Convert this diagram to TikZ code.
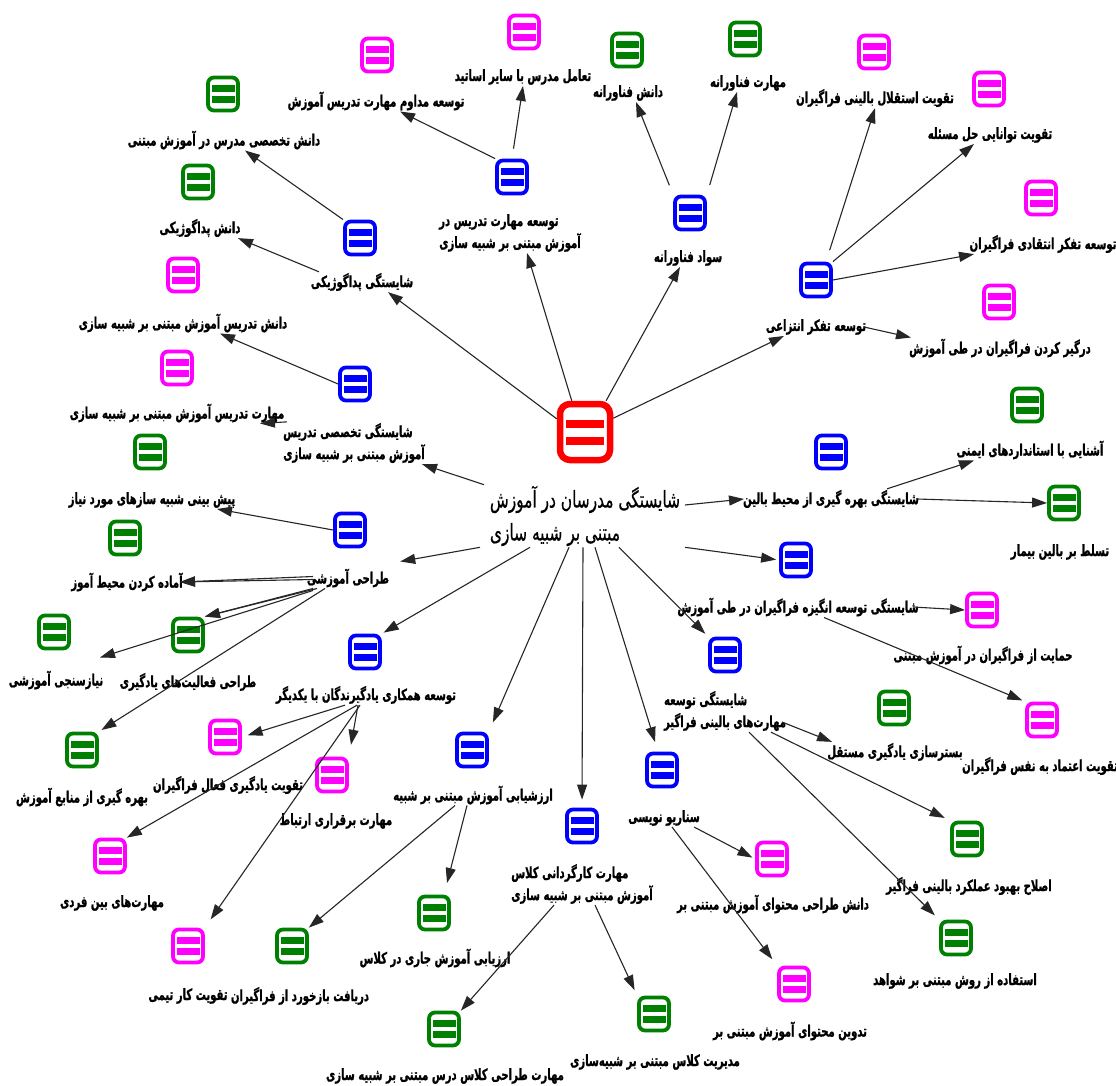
\documentclass[tikz,border=0pt]{standalone}
\usepackage{fontspec}
\usetikzlibrary{arrows.meta}
\TeXXeTstate=1
\newfontfamily\fa[Script=Arabic,FakeStretch=0.65,BoldFeatures={FakeBold=1}]{DejaVu Sans}
\newfontfamily\fc[Script=Arabic,FakeStretch=0.67,FakeBold=0.4]{DejaVu Sans}
\newcommand\ar[1]{\beginR #1\endR}
\definecolor{colG}{RGB}{0,128,0}
\definecolor{colB}{RGB}{0,0,255}
\definecolor{colM}{RGB}{255,0,255}
\definecolor{colR}{RGB}{255,0,0}
\newcommand\kid[7]{\node[ico=#2] (#1) at (#3,#4) {}; \node[lab] (#1l) at (#5,#6) {#7};}
\begin{document}
\begin{tikzpicture}[x=1pt,y=-1pt,
  ico/.style={draw=#1, fill=white, line width=3.8pt, rounded corners=6pt,
    minimum width=30pt, minimum height=33pt, inner sep=0pt,
    path picture={
      \fill[#1,sharp corners] ([shift={(-11.5pt,2.2pt)}]path picture bounding box.center) rectangle ([shift={(11.5pt,8.6pt)}]path picture bounding box.center);
      \fill[#1,sharp corners] ([shift={(-11.5pt,-2.2pt)}]path picture bounding box.center) rectangle ([shift={(11.5pt,-8.6pt)}]path picture bounding box.center);
    }},
  bigico/.style={draw=colR, fill=white, line width=6.5pt, rounded corners=10pt,
    minimum width=50pt, minimum height=56pt, inner sep=0pt,
    path picture={
      \fill[colR,sharp corners] ([shift={(-19pt,4pt)}]path picture bounding box.center) rectangle ([shift={(19pt,12pt)}]path picture bounding box.center);
      \fill[colR,sharp corners] ([shift={(-19pt,-4.5pt)}]path picture bounding box.center) rectangle ([shift={(19pt,-12.5pt)}]path picture bounding box.center);
    }},
  lab/.style={font=\fa\bfseries\fontsize{15.5}{22}\selectfont, inner sep=1pt, align=left},
  clab/.style={font=\fc\fontsize{23}{33}\selectfont, inner sep=1pt, align=left},
  arr/.style={-{Triangle[length=15pt,width=10pt]}, line width=1.1pt, draw=black!85}
]
\fill[white] (0,0) rectangle (1116,1086);
\useasboundingbox (0,0) rectangle (1116,1086);

% centre
\node[bigico] (c) at (585,432) {};
\node[clab] (cl) at (585,516) {\ar{شایستگی مدرسان در آموزش}\\\ar{مبتنی بر شبیه سازی}};

% level 1
\node[ico=colB] (b1) at (360,238) {};
\node[lab] (b1l) at (362,282) {\ar{شایستگی پداگوژیکی}};
\node[ico=colB] (b2) at (512,177) {};
\node[lab] (b2l) at (510,233) {\ar{توسعه مهارت تدریس در}\\\ar{آموزش مبتنی بر  شبیه سازی}};
\node[ico=colB] (b3) at (690,213) {};
\node[lab] (b3l) at (688,258) {\ar{سواد فناورانه}};
\node[ico=colB] (b4) at (816,280) {};
\node[lab] (b4l) at (816,327) {\ar{توسعه تفکر انتزاعی}};
\node[ico=colB] (b5) at (355,384) {};
\node[lab] (b5l) at (354,443) {\ar{شایستگی تخصصی تدریس}\\\ar{آموزش مبتنی بر شبیه سازی}};
\node[ico=colB] (b6) at (350,530) {};
\node[lab] (b6l) at (348,578) {\ar{طراحی آموزشی}};
\node[ico=colB] (b7) at (365,652) {};
\node[lab] (b7l) at (366,695) {\ar{توسعه همکاری یادگیرندگان با یکدیگر}};
\node[ico=colB] (b8) at (472,750) {};
\node[lab] (b8l) at (473,795) {\ar{ارزشیابی آموزش مبتنی بر شبیه}};
\node[ico=colB] (b9) at (582,826) {};
\node[lab] (b9l) at (582,884) {\ar{مهارت کارگردانی کلاس}\\\ar{آموزش مبتنی بر شبیه سازی}};
\node[ico=colB] (b10) at (662,770) {};
\node[lab] (b10l) at (664,818) {\ar{سناریو نویسی}};
\node[ico=colB] (b11) at (725,655) {};
\node[lab] (b11l) at (725,711) {\ar{شایستگی توسعه}\\\ar{مهارت^^^^200cهای بالینی فراگیر}};
\node[ico=colB] (b12) at (796,560) {};
\node[lab] (b12l) at (798,607) {\ar{شایستگی توسعه انگیزه فراگیران در طی آموزش}};
\node[ico=colB] (b13) at (831,452) {};
\node[lab] (b13l) at (831,499) {\ar{شایستگی بهره گیری از محیط بالین}};

% level 2
\kid{g1}{colG}{223}{94}{224}{140}{\ar{دانش تخصصی مدرس در آموزش مبتنی}}
\kid{g2}{colG}{198}{182}{200}{228}{\ar{دانش پداگوژیکی}}
\kid{m1}{colM}{377}{55}{376}{101}{\ar{توسعه مداوم مهارت تدریس آموزش}}
\kid{m2}{colM}{524}{32}{523}{77}{\ar{تعامل مدرس با سایر اساتید}}
\kid{g3}{colG}{627}{50}{628}{93}{\ar{دانش فناورانه}}
\kid{g4}{colG}{745}{39}{748}{83}{\ar{مهارت فناورانه}}
\kid{m3}{colM}{874}{52}{875}{98}{\ar{تقویت استقلال بالینی فراگیران}}
\kid{m4}{colM}{989}{89}{990}{135}{\ar{تقویت توانایی حل مسئله}}
\kid{m5}{colM}{1041}{198}{1043}{244}{\ar{توسعه تفکر انتقادی فراگیران}}
\kid{m6}{colM}{999}{302}{1000}{348}{\ar{درگیر کردن فراگیران در طی آموزش}}
\kid{m7}{colM}{183}{275}{183}{323}{\ar{دانش تدریس آموزش مبتنی بر شبیه سازی}}
\kid{m8}{colM}{177}{368}{177}{413}{\ar{مهارت تدریس آموزش مبتنی بر شبیه سازی}}
\kid{g5}{colG}{150}{452}{152}{500}{\ar{پیش بینی شبیه سازهای مورد نیاز}}
\kid{g6}{colG}{125}{538}{127}{582}{\ar{آماده کردن محیط آموز}}
\kid{g7}{colG}{54}{632}{56}{680}{\ar{نیازسنجی آموزشی}}
\kid{g8}{colG}{188}{635}{188}{682}{\ar{طراحی فعالیت^^^^200cهای یادگیری}}
\kid{g9}{colG}{82}{750}{82}{797}{\ar{بهره گیری از منابع آموزش}}
\kid{m9}{colM}{225}{737}{228}{785}{\ar{تقویت یادگیری فعال فراگیران}}
\kid{m10}{colM}{332}{775}{336}{821}{\ar{مهارت برقراری ارتباط}}
\kid{m11}{colM}{110}{856}{112}{903}{\ar{مهارت^^^^200cهای بین فردی}}
\kid{m12}{colM}{188}{946}{188}{996}{\ar{تقویت کار تیمی}}
\kid{g10}{colG}{292}{946}{300}{996}{\ar{دریافت بازخورد از فراگیران}}
\kid{g11}{colG}{434}{913}{435}{958}{\ar{ارزیابی آموزش جاری در کلاس}}
\kid{g12}{colG}{444}{1029}{445}{1076}{\ar{مهارت طراحی کلاس درس مبتنی بر شبیه سازی}}
\kid{g13}{colG}{654}{1014}{655}{1062}{\ar{مدیریت کلاس مبتنی بر شبیه^^^^200cسازی}}
\kid{m13}{colM}{772}{859}{773}{904}{\ar{دانش طراحی محتوای آموزش مبتنی بر}}
\kid{m14}{colM}{794}{984}{790}{1031}{\ar{تدوین محتوای آموزش مبتنی بر}}
\kid{g14}{colG}{967}{839}{969}{886}{\ar{اصلاح بهبود عملکرد بالینی فراگیر}}
\kid{g15}{colG}{956}{938}{955}{981}{\ar{استفاده از روش مبتنی بر شواهد}}
\kid{g16}{colG}{894}{708}{895}{752}{\ar{بسترسازی یادگیری مستقل}}
\kid{m15}{colM}{1042}{720}{1040}{766}{\ar{تقویت اعتماد به نفس فراگیران}}
\kid{m16}{colM}{982}{610}{983}{655}{\ar{حمایت از فراگیران در آموزش مبتنی}}
\kid{g17}{colG}{1064}{503}{1060}{552}{\ar{تسلط بر بالین بیمار}}
\kid{g18}{colG}{1027}{405}{1030}{450}{\ar{آشنایی با استانداردهای ایمنی}}

% edges from centre
\draw[arr] (c.155) -- ([xshift=26pt]b1l.south);
\draw[arr] (c.113) -- ([xshift=17pt]b2l.south);
\draw[arr] (c.56) -- ([xshift=-8pt]b3l.south);
\draw[arr] (c.26) -- ([xshift=-32pt]b4l.south);
\draw[arr] ([xshift=-101pt]cl.north) -- ([xshift=68pt]b5l.south);
\draw[arr] ([xshift=100pt,yshift=11pt]cl.center) -- ([xshift=-87pt]b13l.center);
\draw[arr] ([xshift=-105pt]cl.south) -- ([xshift=10pt,yshift=6pt]b6l.north east);
\draw[arr,shorten >=2pt] ([xshift=-55pt]cl.south) -- (b7.north east);
\draw[arr,shorten >=10pt] ([xshift=-16pt]cl.south) -- (b8.north east);
\draw[arr,shorten >=8pt] ([xshift=-2pt]cl.south) -- (b9.north);
\draw[arr,shorten >=10pt] ([xshift=10pt]cl.south) -- ([xshift=-4pt]b10.north);
\draw[arr,shorten >=4pt] ([xshift=34pt]cl.south) -- (b11.north west);
\draw[arr,shorten >=3pt] ([xshift=100pt]cl.south) -- (b12.west);

% b1
\draw[arr] (b1.north west) -- ([xshift=21pt]g1l.south);
\draw[arr] ([xshift=-43pt]b1l.north) -- ([xshift=38pt]g2l.south);
% b2
\draw[arr] (b2.north west) -- ([xshift=24pt]m1l.south);
\draw[arr,shorten <=10pt] (b2.north) -- (m2l.south);
% b3
\draw[arr,shorten <=10pt] (b3.north west) -- ([xshift=8pt]g3l.south);
\draw[arr,shorten <=10pt] (b3.north east) -- ([xshift=-11pt]g4l.south);
% b4
\draw[arr,shorten <=12pt] ([xshift=10pt]b4.north) -- (m3l.south);
\draw[arr] (b4.north east) -- ([xshift=-16pt]m4l.south);
\draw[arr] (b4.east) -- ([xshift=-69pt]m5l.south);
\draw[arr] ([xshift=48pt]b4l.center) -- ([xshift=-89pt]m6l.north);
% b5
\draw[arr] (b5.west) -- ([xshift=37pt]m7l.south);
\draw[arr] ([xshift=-67pt]b5l.north) -- ([xshift=83pt]m8l.south);
% b6
\draw[arr] (b6.west) -- ([xshift=65pt]g5l.south);
\draw[arr] ([xshift=-35pt,yshift=1.5pt]b6l.center) -- ([xshift=53pt]g6l.center);
\draw[arr] ([xshift=-35pt,yshift=-1.5pt]b6l.center) -- ([xshift=53pt]g6l.center);
\draw[arr] ([xshift=-35pt]b6l.south) -- (g8.north east);
\draw[arr] ([xshift=-31pt]b6l.south) -- (g8.north east);
\draw[arr] ([xshift=-35pt,yshift=-2pt]b6l.south) -- ([xshift=44pt,yshift=12pt]g7l.north);
\draw[arr,shorten >=3pt] ([xshift=-23pt]b6l.south) -- (g9.north east);
% b7
\draw[arr,shorten >=6pt] ([xshift=-21pt]b7l.south) -- (m9.east);
\draw[arr,shorten >=12pt] ([xshift=-8pt]b7l.south) -- (m10.north east);
\draw[arr] ([xshift=-9pt]b7l.south) -- (m11.north east);
\draw[arr,shorten >=10pt] ([xshift=-6pt]b7l.south) -- (m12.north east);
% b8
\draw[arr] ([xshift=-18pt]b8l.south) -- (g10.north east);
\draw[arr,shorten >=12pt] ([xshift=-6pt]b8l.south) -- ([xshift=10pt]g11.north);
% b9
\draw[arr] ([xshift=-28pt]b9l.south) -- (g12.north east);
\draw[arr,shorten >=6pt] ([xshift=13pt]b9l.south) -- (g13.north west);
% b10
\draw[arr,shorten >=3pt] ([xshift=30pt]b10l.south) -- (m13.west);
\draw[arr,shorten >=8pt] ([xshift=8pt]b10l.south) -- (m14.north west);
% b11
\draw[arr] ([xshift=57pt,yshift=-11pt]b11l.center) -- ([xshift=-63pt]g16l.north);
\draw[arr,shorten >=6pt] ([xshift=46pt]b11l.south) -- (g14.north west);
\draw[arr,shorten >=6pt] ([xshift=24pt]b11l.south) -- (g15.north west);
% b12
\draw[arr] ([xshift=115pt]b12l.center) -- (m16.west);
\draw[arr,shorten >=3pt] ([xshift=26pt]b12l.south) -- (m15.north west);
% b13
\draw[arr] ([xshift=56pt]b13l.north) -- ([xshift=-56pt]g18l.south);
\draw[arr] ([xshift=86pt]b13l.center) -- (g17.west);
\end{tikzpicture}
\end{document}
